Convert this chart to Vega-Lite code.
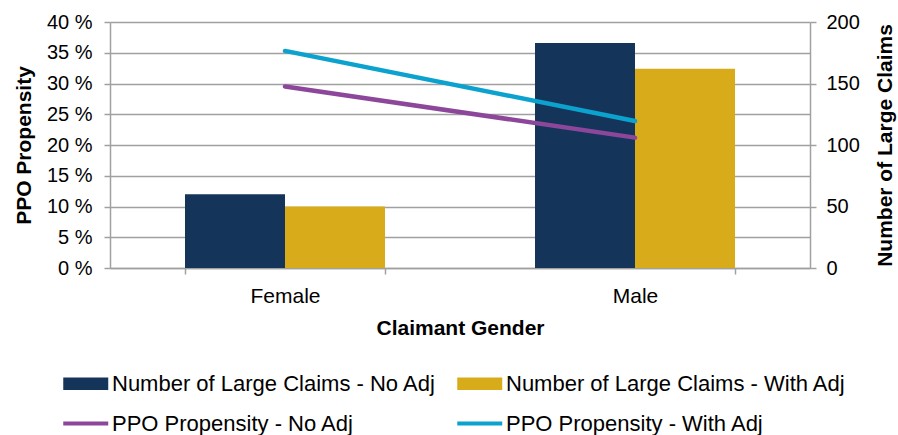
{
  "$schema": "https://vega.github.io/schema/vega-lite/v6.json",
  "width": 700,
  "height": 246,
  "autosize": "none",
  "padding": {"left": 110, "top": 22, "right": 88, "bottom": 167},
  "datasets": {
    "claims": [
      {"gender": "Female", "series": "Number of Large Claims - No Adj", "count": 60},
      {"gender": "Female", "series": "Number of Large Claims - With Adj", "count": 50},
      {"gender": "Male", "series": "Number of Large Claims - No Adj", "count": 183},
      {"gender": "Male", "series": "Number of Large Claims - With Adj", "count": 162}
    ],
    "ppo": [
      {"gender": "Female", "series": "PPO Propensity - No Adj", "pct": 29.5},
      {"gender": "Male", "series": "PPO Propensity - No Adj", "pct": 21.2},
      {"gender": "Female", "series": "PPO Propensity - With Adj", "pct": 35.3},
      {"gender": "Male", "series": "PPO Propensity - With Adj", "pct": 23.9}
    ]
  },
  "config": {
    "font": "Liberation Sans",
    "view": {"stroke": null},
    "axis": {
      "labelFont": "Liberation Sans",
      "titleFont": "Liberation Sans",
      "labelColor": "#000000",
      "titleColor": "#000000",
      "labelFontSize": 20,
      "titleFontSize": 21,
      "titleFontWeight": "bold",
      "domainColor": "#a0a0a0",
      "domainWidth": 1.5,
      "tickColor": "#a0a0a0",
      "tickWidth": 1.5,
      "tickSize": 6
    }
  },
  "layer": [
    {
      "data": {"name": "claims"},
      "mark": {"type": "bar"},
      "encoding": {
        "x": {
          "field": "gender",
          "type": "nominal",
          "sort": ["Female", "Male"],
          "scale": {"paddingInner": 0.4286, "paddingOuter": 0.2143},
          "axis": {
            "title": "Claimant Gender",
            "labelAngle": 0,
            "labelFontSize": 21,
            "tickBand": "extent",
            "labelPadding": 11,
            "titlePadding": 11
          }
        },
        "xOffset": {
          "field": "series",
          "type": "nominal",
          "sort": ["Number of Large Claims - No Adj", "Number of Large Claims - With Adj"],
          "scale": {"paddingInner": 0, "paddingOuter": 0}
        },
        "y": {
          "field": "count",
          "type": "quantitative",
          "scale": {"domain": [0, 200]},
          "axis": {
            "orient": "right",
            "title": "Number of Large Claims",
            "titleAngle": -90,
            "titleBaseline": "bottom",
            "values": [0, 50, 100, 150, 200],
            "grid": false,
            "labelPadding": 10,
            "titlePadding": 36
          }
        },
        "color": {
          "field": "series",
          "type": "nominal",
          "scale": {
            "domain": ["Number of Large Claims - No Adj", "Number of Large Claims - With Adj", "PPO Propensity - No Adj", "PPO Propensity - With Adj"],
            "range": ["#15345a", "#d8ab1a", "#8c479b", "#0ba2cd"]
          },
          "legend": {
            "orient": "none",
            "legendX": -47,
            "legendY": 350,
            "direction": "horizontal",
            "title": null,
            "columns": 2,
            "columnPadding": 20,
            "rowPadding": 17,
            "labelFont": "Liberation Sans",
            "labelFontSize": 22,
            "labelLimit": 0,
            "labelColor": "#000000",
            "labelOffset": 26,
            "symbolSize": 506,
            "symbolStrokeWidth": 0,
            "encode": {
              "symbols": {
                "update": {
                  "shape": {"signal": "indexof(datum.label, 'Number') >= 0 ? 'M-1,-0.56H3V0.56H-1Z' : 'M-1,-0.17H3V0.17H-1Z'"},
                  "fill": {"scale": "color", "field": "value"},
                  "stroke": {"value": "transparent"},
                  "opacity": {"value": 1}
                }
              }
            }
          }
        }
      }
    },
    {
      "data": {"name": "ppo"},
      "mark": {"type": "line", "strokeWidth": 4.5, "strokeCap": "round"},
      "encoding": {
        "x": {"field": "gender", "type": "nominal", "sort": ["Female", "Male"]},
        "y": {
          "field": "pct",
          "type": "quantitative",
          "scale": {"domain": [0, 40]},
          "axis": {
            "orient": "left",
            "title": "PPO Propensity",
            "values": [0, 5, 10, 15, 20, 25, 30, 35, 40],
            "labelExpr": "datum.value + ' %'",
            "grid": true,
            "gridColor": "#a0a0a0",
            "gridWidth": 1.5,
            "labelPadding": 12,
            "titlePadding": 12
          }
        },
        "color": {"field": "series", "type": "nominal"}
      }
    }
  ],
  "resolve": {"scale": {"y": "independent"}}
}
